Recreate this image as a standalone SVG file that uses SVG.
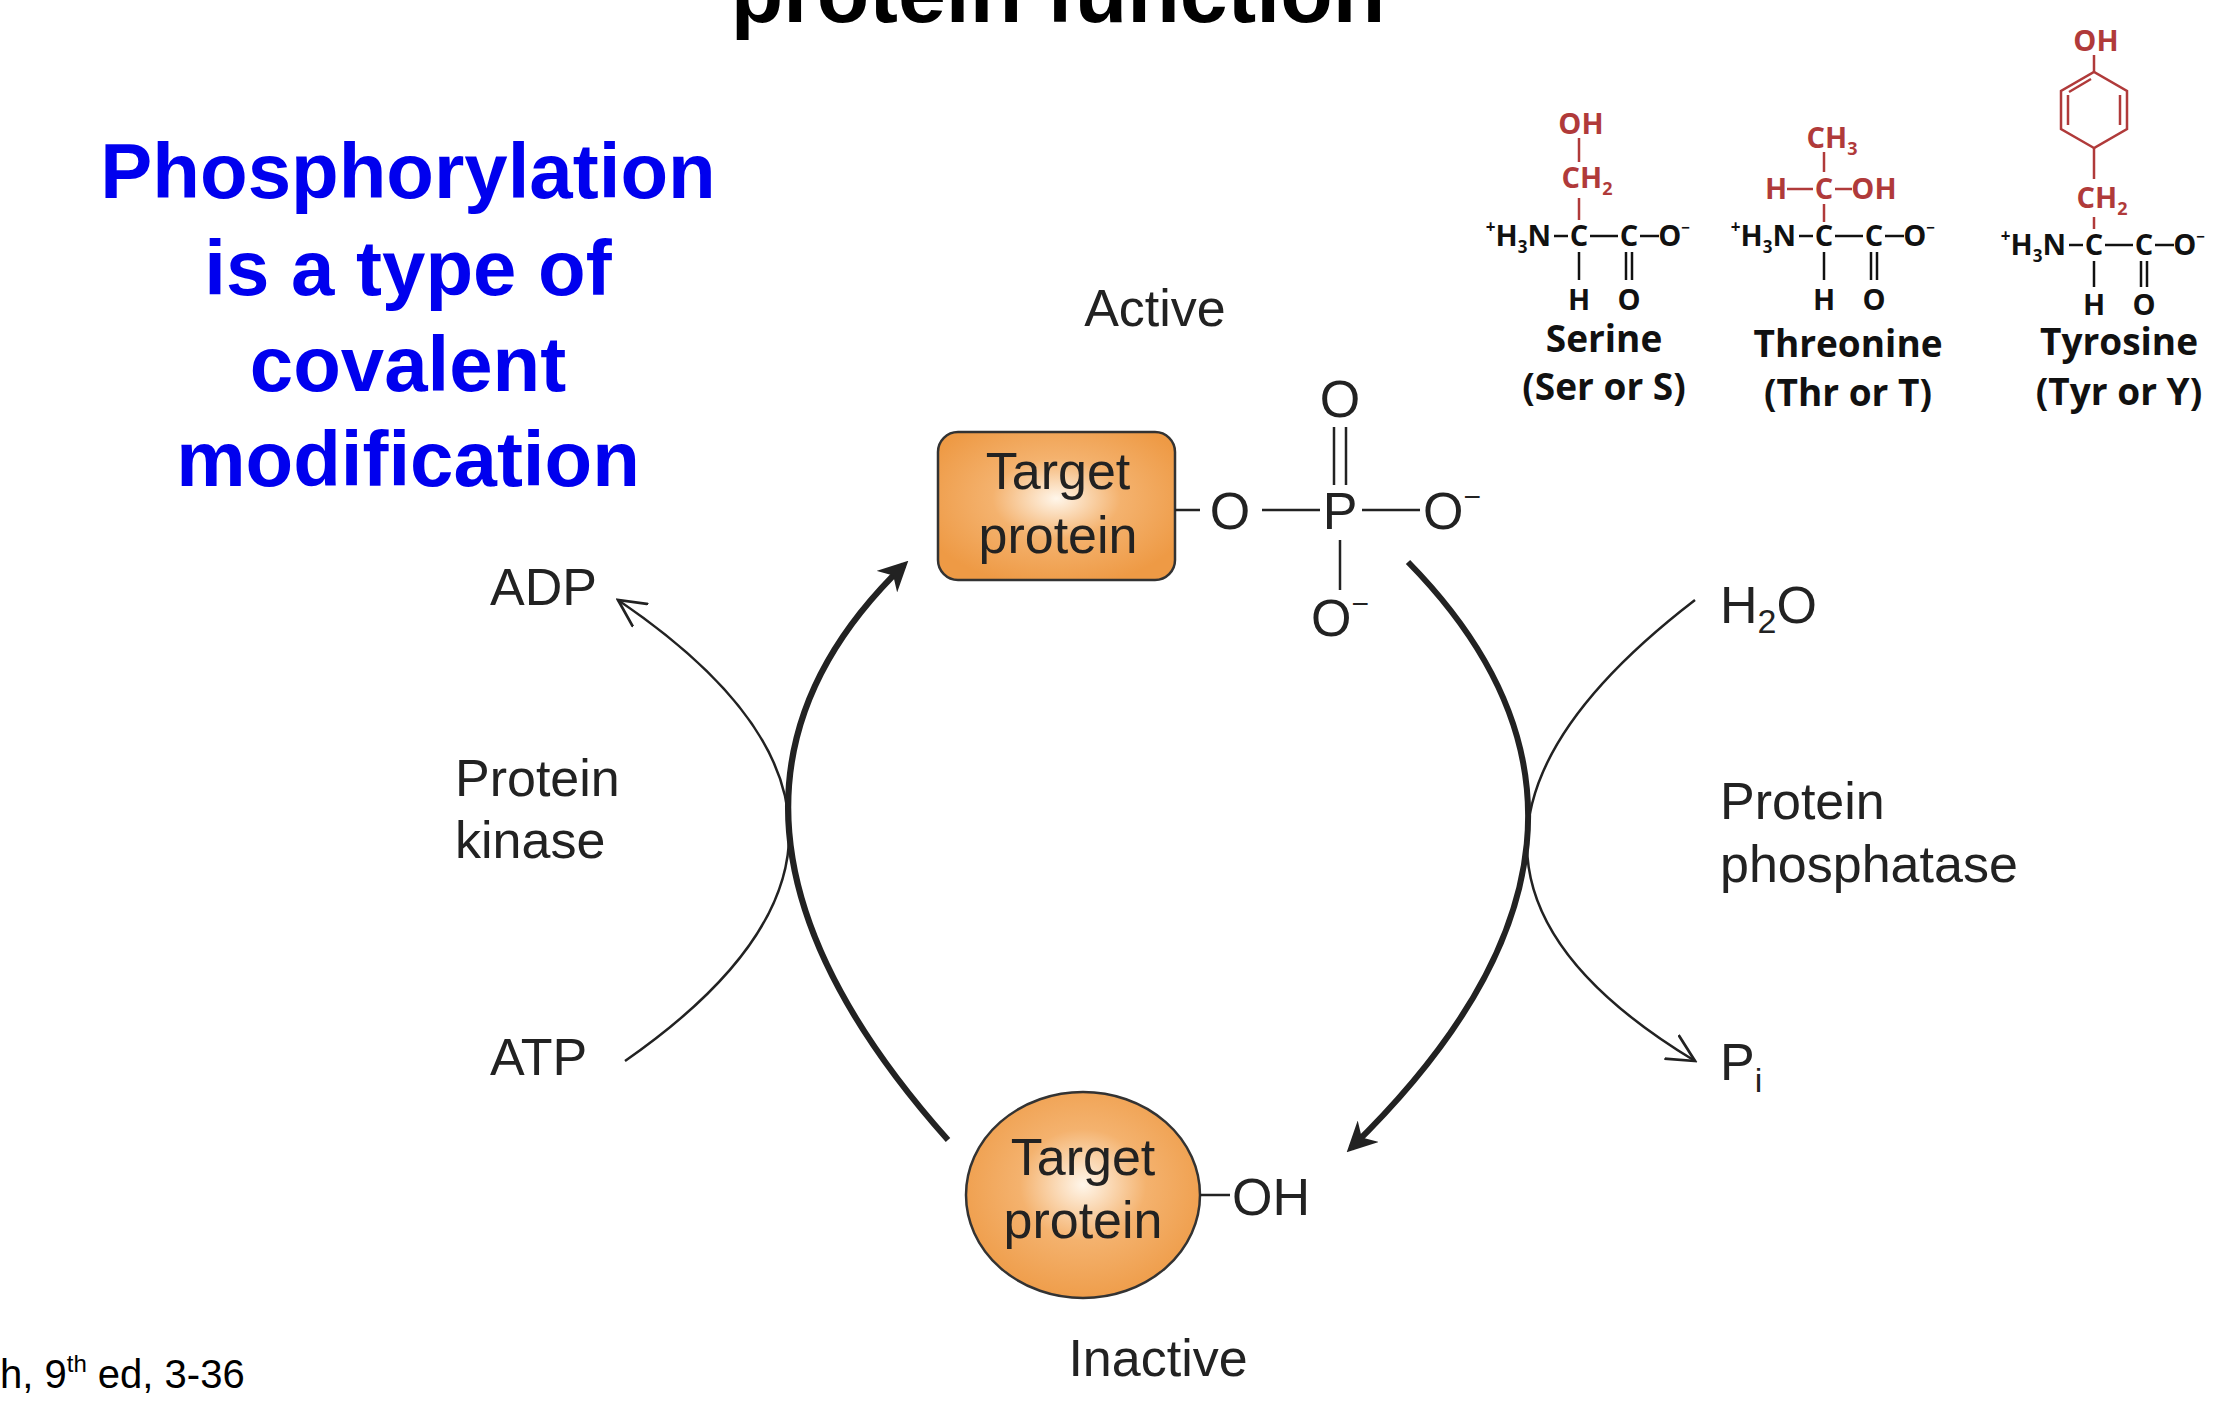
<svg xmlns="http://www.w3.org/2000/svg" width="2230" height="1406" viewBox="0 0 2230 1406">
<style>
.t{font-family:"Liberation Sans",Arial,sans-serif;fill:#222}
.lab{font-size:52px}
.blue{font-family:"Liberation Sans",Arial,sans-serif;font-weight:bold;font-size:78px;fill:#0000ee;text-anchor:middle}
.ch{font-family:"Open Sans","Liberation Sans",sans-serif;font-weight:bold;font-size:29px;fill:#111;text-anchor:middle}
.hn{text-anchor:end}
.red{fill:#b03a3a}
.rl{stroke:#b03a3a;stroke-width:2.5;fill:none}
.bl{stroke:#111;stroke-width:2.5;fill:none}
.nm{font-family:"Open Sans","Liberation Sans",sans-serif;font-weight:bold;font-size:37px;fill:#111;text-anchor:middle}
.thick{stroke:#222;stroke-width:6;fill:none}
.thin{stroke:#222;stroke-width:2.5;fill:none}
</style>
<defs>
<radialGradient id="og" cx="50%" cy="45%" r="60%">
<stop offset="0" stop-color="#fff6ea"/><stop offset="0.45" stop-color="#f4b26e"/><stop offset="1" stop-color="#ee9a45"/>
</radialGradient>
<marker id="ah" viewBox="0 0 10 10" refX="8" refY="5" markerWidth="5" markerHeight="5" orient="auto" markerUnits="strokeWidth"><path d="M0,0 L10,5 L0,10 L3,5 z" fill="#222"/></marker>
<marker id="oh" viewBox="0 0 12 12" refX="11" refY="6" markerWidth="30" markerHeight="30" orient="auto" markerUnits="userSpaceOnUse"><path d="M0,0.5 L11,6 L0,11.5" fill="none" stroke="#222" stroke-width="1.1"/></marker>
</defs>
<rect width="2230" height="1406" fill="#fff"/>
<text x="1058" y="22" font-family="Liberation Sans,Arial,sans-serif" font-weight="bold" font-size="86" text-anchor="middle" fill="#000">protein function</text>
<g id="title-blue">
<text class="blue" x="408" y="198">Phosphorylation</text>
<text class="blue" x="408" y="295">is a type of</text>
<text class="blue" x="408" y="391">covalent</text>
<text class="blue" x="408" y="486">modification</text>
</g>
<text class="t lab" x="1155" y="326" text-anchor="middle">Active</text>
<text class="t lab" x="1158" y="1376" text-anchor="middle">Inactive</text>
<g id="connectors">
<path class="thick" d="M948,1140 Q652,808 904,565" marker-end="url(#ah)"/>
<path class="thick" d="M1408,562 Q1674,833 1351,1148" marker-end="url(#ah)"/>
<path class="thin" d="M625,1061 Q957,830 618,600" marker-end="url(#oh)"/>
<path class="thin" d="M1695,600 Q1359,858 1695,1061" marker-end="url(#oh)"/>
</g>
<g id="active-protein">
<rect x="938" y="432" width="237" height="148" rx="20" fill="url(#og)" stroke="#333" stroke-width="2.5"/>
<text class="t lab" x="1058" y="489" text-anchor="middle">Target</text>
<text class="t lab" x="1058" y="553" text-anchor="middle">protein</text>
<line x1="1175" y1="510" x2="1200" y2="510" class="thin"/>
<text class="t lab" x="1230" y="529" text-anchor="middle">O</text>
<line x1="1262" y1="510" x2="1320" y2="510" class="thin"/>
<text class="t lab" x="1340" y="529" text-anchor="middle">P</text>
<line x1="1362" y1="510" x2="1420" y2="510" class="thin"/>
<text class="t lab" x="1452" y="529" text-anchor="middle">O<tspan font-size="30" dy="-22">−</tspan></text>
<text class="t lab" x="1340" y="417" text-anchor="middle">O</text>
<line x1="1334" y1="427" x2="1334" y2="485" class="thin"/><line x1="1346" y1="427" x2="1346" y2="485" class="thin"/>
<line x1="1340" y1="540" x2="1340" y2="590" class="thin"/>
<text class="t lab" x="1340" y="636" text-anchor="middle">O<tspan font-size="30" dy="-22">−</tspan></text>
</g>
<g id="inactive-protein">
<ellipse cx="1083" cy="1195" rx="117" ry="103" fill="url(#og)" stroke="#333" stroke-width="2.5"/>
<text class="t lab" x="1083" y="1175" text-anchor="middle">Target</text>
<text class="t lab" x="1083" y="1238" text-anchor="middle">protein</text>
<line x1="1200" y1="1195" x2="1230" y2="1195" class="thin"/>
<text class="t lab" x="1232" y="1215">OH</text>
</g>
<g id="labels">
<text class="t lab" x="490" y="605">ADP</text>
<text class="t lab" x="490" y="1075">ATP</text>
<text class="t lab" x="455" y="796">Protein</text>
<text class="t lab" x="455" y="858">kinase</text>
<text class="t lab" x="1720" y="623">H<tspan font-size="34" dy="10">2</tspan><tspan dy="-10">O</tspan></text>
<text class="t lab" x="1720" y="819">Protein</text>
<text class="t lab" x="1720" y="882">phosphatase</text>
<text class="t lab" x="1720" y="1080">P<tspan font-size="34" dy="12">i</tspan></text>
</g>
<text x="0" y="1388" font-family="Liberation Sans,Arial,sans-serif" font-size="40" fill="#000">h, 9<tspan font-size="24" dy="-16">th</tspan><tspan dy="16"> ed, 3-36</tspan></text>
<g id="serine" transform="translate(1579,246)">
<text class="ch hn" x="-28" y="0"><tspan font-size="17" dy="-13">+</tspan><tspan dy="13">H</tspan><tspan font-size="17" dy="7">3</tspan><tspan dy="-7">N</tspan></text>
<line class="bl" x1="-25" y1="-10" x2="-11" y2="-10"/><text class="ch" x="0" y="0">C</text>
<line class="bl" x1="11" y1="-10" x2="39" y2="-10"/><text class="ch" x="50" y="0">C</text>
<line class="bl" x1="61" y1="-10" x2="80" y2="-10"/><text class="ch" x="95" y="0">O<tspan font-size="15" dy="-13">−</tspan></text>
<line class="bl" x1="0" y1="6" x2="0" y2="34"/><text class="ch" x="0" y="64">H</text>
<line class="bl" x1="47" y1="6" x2="47" y2="34"/><line class="bl" x1="53" y1="6" x2="53" y2="34"/><text class="ch" x="50" y="64">O</text>
<line class="rl" x1="0" y1="-26" x2="0" y2="-48"/>
<text class="ch red" x="8" y="-58">CH<tspan font-size="18" dy="7">2</tspan></text>
<line class="rl" x1="0" y1="-84" x2="0" y2="-108"/>
<text class="ch red" x="2" y="-112">OH</text>
<text class="nm" x="25" y="106">Serine</text>
<text class="nm" x="25" y="154">(Ser or S)</text>
</g>
<g id="threonine" transform="translate(1824,246)">
<text class="ch hn" x="-28" y="0"><tspan font-size="17" dy="-13">+</tspan><tspan dy="13">H</tspan><tspan font-size="17" dy="7">3</tspan><tspan dy="-7">N</tspan></text>
<line class="bl" x1="-25" y1="-10" x2="-11" y2="-10"/><text class="ch" x="0" y="0">C</text>
<line class="bl" x1="11" y1="-10" x2="39" y2="-10"/><text class="ch" x="50" y="0">C</text>
<line class="bl" x1="61" y1="-10" x2="80" y2="-10"/><text class="ch" x="95" y="0">O<tspan font-size="15" dy="-13">−</tspan></text>
<line class="bl" x1="0" y1="6" x2="0" y2="34"/><text class="ch" x="0" y="64">H</text>
<line class="bl" x1="47" y1="6" x2="47" y2="34"/><line class="bl" x1="53" y1="6" x2="53" y2="34"/><text class="ch" x="50" y="64">O</text>
<line class="rl" x1="0" y1="-24" x2="0" y2="-42"/>
<text class="ch red" x="-48" y="-47">H</text><line class="rl" x1="-37" y1="-57" x2="-11" y2="-57"/>
<text class="ch red" x="0" y="-47">C</text><line class="rl" x1="11" y1="-57" x2="28" y2="-57"/>
<text class="ch red" x="50" y="-47">OH</text>
<line class="rl" x1="0" y1="-74" x2="0" y2="-94"/>
<text class="ch red" x="8" y="-98">CH<tspan font-size="18" dy="7">3</tspan></text>
<text class="nm" x="24" y="111">Threonine</text>
<text class="nm" x="24" y="160">(Thr or T)</text>
</g>
<g id="tyrosine" transform="translate(2094,255)">
<text class="ch hn" x="-28" y="0"><tspan font-size="17" dy="-13">+</tspan><tspan dy="13">H</tspan><tspan font-size="17" dy="7">3</tspan><tspan dy="-7">N</tspan></text>
<line class="bl" x1="-25" y1="-10" x2="-11" y2="-10"/><text class="ch" x="0" y="0">C</text>
<line class="bl" x1="11" y1="-10" x2="39" y2="-10"/><text class="ch" x="50" y="0">C</text>
<line class="bl" x1="61" y1="-10" x2="80" y2="-10"/><text class="ch" x="95" y="0">O<tspan font-size="15" dy="-13">−</tspan></text>
<line class="bl" x1="0" y1="6" x2="0" y2="32"/><text class="ch" x="0" y="60">H</text>
<line class="bl" x1="47" y1="6" x2="47" y2="32"/><line class="bl" x1="53" y1="6" x2="53" y2="32"/><text class="ch" x="50" y="60">O</text>
<line class="rl" x1="0" y1="-26" x2="0" y2="-38"/>
<text class="ch red" x="8" y="-47">CH<tspan font-size="18" dy="7">2</tspan></text>
<line class="rl" x1="0" y1="-76" x2="0" y2="-107"/>
<polygon class="rl" points="0,-107 -33,-126 -33,-164 0,-183 33,-164 33,-126"/>
<line class="rl" x1="-26" y1="-130" x2="-26" y2="-160"/><line class="rl" x1="26" y1="-130" x2="26" y2="-160"/><line class="rl" x1="-3" y1="-176" x2="-25" y2="-163"/>
<line class="rl" x1="0" y1="-183" x2="0" y2="-200"/>
<text class="ch red" x="2" y="-204">OH</text>
<text class="nm" x="25" y="100">Tyrosine</text>
<text class="nm" x="25" y="150">(Tyr or Y)</text>
</g>
</svg>
